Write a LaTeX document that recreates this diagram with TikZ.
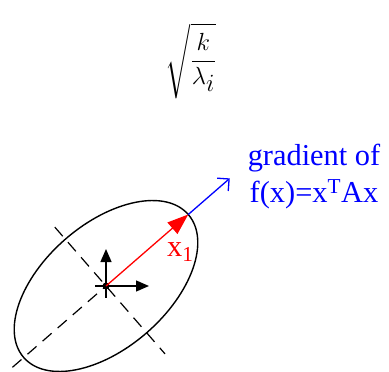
\documentclass[tikz,border=0pt]{standalone}
\usepackage{amsmath}
\usepackage{fontspec}
\setmainfont{Liberation Serif}
\usetikzlibrary{arrows.meta,calc}
\tikzset{
  contour/.style={line width=1.4bp},
  axisline/.style={line width=1.2bp,dash pattern=on 12bp off 8bp},
  basis/.style={-{Triangle[length=13bp,width=11bp]},line width=1.3bp},
  eigvec/.style={-{Triangle[length=21bp,width=15bp]},line width=1.3bp,red},
  gradvec/.style={-{Straight Barb[length=8.5bp,width=17bp]},line width=1.3bp,blue},
  lbl/.style={font=\fontsize{30.5}{37}\selectfont,inner sep=0pt},
  formula/.style={inner sep=0pt,font=\fontsize{35}{40}\selectfont}
}

\begin{document}
\begin{tikzpicture}[x=1bp,y=1bp]
  \useasboundingbox (0,0) rectangle (389,372);
  % contour ellipse with its principal axes
  \coordinate (c) at (106,86);
  \coordinate (maj) at ($(c)+(221:124)$);
  \coordinate (minA) at ($(c)+(131:78)$);
  \coordinate (minB) at ($(c)+(-49:90)$);
  \draw[axisline] (maj) -- (c);
  \draw[axisline] (minA) -- (minB);
  \draw[contour] (c) ellipse[x radius=109,y radius=62,rotate=41];

  % standard basis at the centre
  \coordinate (exs) at (95,86);
  \coordinate (ex) at (149,86);
  \coordinate (eys) at (106,74);
  \coordinate (ey) at (106,123);
  \draw[basis] (exs) -- (ex);
  \draw[basis] (eys) -- (ey);
  \node[circle,fill,inner sep=0pt,minimum size=7bp] (o) at (c) {};

  % eigenvector and gradient direction
  \coordinate (x1) at ($(c)+(41:109)$);
  \coordinate (g) at ($(c)+(41:164)$);
  \draw[eigvec] (o.center) -- (x1);
  \draw[gradvec] (x1) -- (g);

  \node[lbl,red,anchor=base west] (x1lbl) at (167,116) {x\textsubscript{1}};
  \node[lbl,blue,anchor=base] (grad1) at (314,207) {gradient of};
  \node[lbl,blue,anchor=base] (grad2) at (314,170) {f(x)=x\textsuperscript{T}Ax};
  \node[formula] (root) at (191,311)
    {$\sqrt{\dfrac{k}{\lambda_i}}$};
\end{tikzpicture}
\end{document}
